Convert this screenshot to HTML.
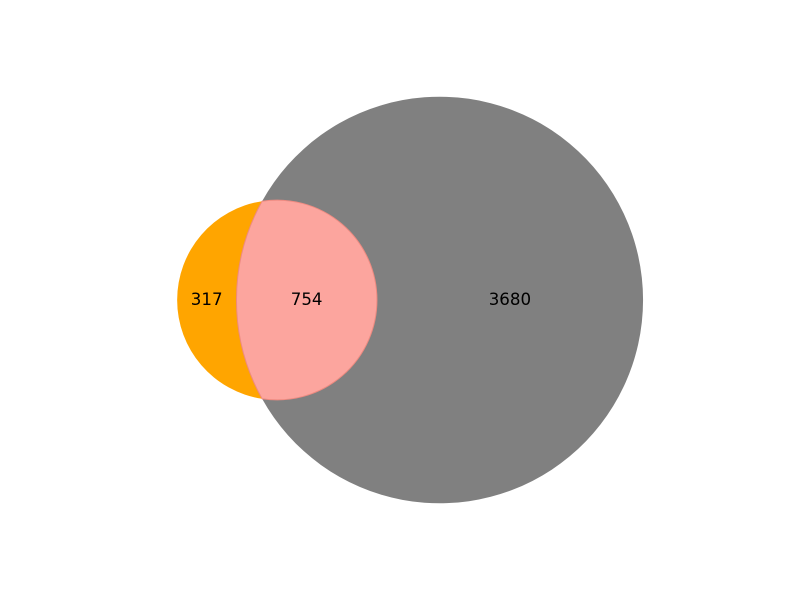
<!DOCTYPE html>
<html lang="en">
<head>
<meta charset="utf-8">
<title>Venn diagram</title>
<style>
  html, body { margin: 0; padding: 0; background: #ffffff; }
  #chart { display: block; width: 800px; height: 600px; }
  text { font-family: "DejaVu Sans", "Liberation Sans", sans-serif; font-size: 16.67px; fill: #000000; text-anchor: middle; }
</style>
</head>
<body>
<svg id="chart" xmlns="http://www.w3.org/2000/svg" width="800" height="600" viewBox="0 0 800 600">
  <rect x="0" y="0" width="800" height="600" fill="#ffffff"></rect>
  <g id="regions"></g>
  <g id="labels"></g>
</svg>
<script>
// Venn region values
const leftOnly = 317;
const overlap = 754;
const rightOnly = 3680;

const PX_PER_SQRT_UNIT = 3.053;
const MID_X = 410.1;
const MID_Y = 300;
const BASELINE_OFFSET = 5;
const LABEL_SHIFT_X = -0.1;
const SVG_NS = 'http://www.w3.org/2000/svg';

function lensArea(d, r1, r2) {
  const a = (d * d + r1 * r1 - r2 * r2) / (2 * d);
  const b = d - a;
  const h = Math.sqrt(Math.max(0, r1 * r1 - a * a));
  return r1 * r1 * Math.acos(a / r1) - a * h + r2 * r2 * Math.acos(b / r2) - b * h;
}

function solveDistance(r1, r2, area) {
  let lo = Math.abs(r2 - r1) + 1e-6;
  let hi = r1 + r2 - 1e-6;
  for (let i = 0; i < 80; i++) {
    const mid = (lo + hi) / 2;
    if (lensArea(mid, r1, r2) > area) lo = mid; else hi = mid;
  }
  return (lo + hi) / 2;
}

const r1 = PX_PER_SQRT_UNIT * Math.sqrt(leftOnly + overlap);
const r2 = PX_PER_SQRT_UNIT * Math.sqrt(overlap + rightOnly);
const lensPx = overlap * Math.PI * PX_PER_SQRT_UNIT * PX_PER_SQRT_UNIT;
const dist = solveDistance(r1, r2, lensPx);

const leftEdge = MID_X - (r1 + dist + r2) / 2;
const cx1 = leftEdge + r1;
const cx2 = cx1 + dist;

const chordOffset = (dist * dist + r1 * r1 - r2 * r2) / (2 * dist);
const chordX = cx1 + chordOffset;
const chordH = Math.sqrt(r1 * r1 - chordOffset * chordOffset);
const topY = MID_Y - chordH;
const botY = MID_Y + chordH;
// the small circle's arc through its right side is the large arc when the chord lies left of its centre
const smallLarge = chordOffset < 0 ? 1 : 0;

const crescentPath = `M ${chordX} ${topY} A ${r1} ${r1} 0 ${1 - smallLarge} 0 ${chordX} ${botY} A ${r2} ${r2} 0 0 1 ${chordX} ${topY} Z`;
const grayPath = `M ${chordX} ${topY} A ${r2} ${r2} 0 1 1 ${chordX} ${botY} A ${r1} ${r1} 0 ${smallLarge} 0 ${chordX} ${topY} Z`;
const lensPath = `M ${chordX} ${topY} A ${r1} ${r1} 0 ${smallLarge} 1 ${chordX} ${botY} A ${r2} ${r2} 0 0 1 ${chordX} ${topY} Z`;

const regions = document.getElementById('regions');
const labels = document.getElementById('labels');

const grayRegion = document.createElementNS(SVG_NS, 'path');
grayRegion.setAttribute('d', grayPath);
grayRegion.setAttribute('fill', '#808080');


regions.appendChild(grayRegion);

const orangeRegion = document.createElementNS(SVG_NS, 'path');
orangeRegion.setAttribute('d', crescentPath);
orangeRegion.setAttribute('fill', '#ffa500');


regions.appendChild(orangeRegion);

const pinkRegion = document.createElementNS(SVG_NS, 'path');
pinkRegion.setAttribute('d', lensPath);
pinkRegion.setAttribute('fill', '#fca59e');
pinkRegion.setAttribute('stroke', '#ee8a80');
pinkRegion.setAttribute('stroke-width', '1');


regions.appendChild(pinkRegion);

const leftEdgeOfBig = cx2 - r2;
const rightEdgeOfSmall = cx1 + r1;
const rightEdgeOfBig = cx2 + r2;

const leftLabel = document.createElementNS(SVG_NS, 'text');
leftLabel.setAttribute('x', (leftEdge + leftEdgeOfBig) / 2 + LABEL_SHIFT_X);
leftLabel.setAttribute('y', MID_Y + BASELINE_OFFSET);
leftLabel.textContent = String(leftOnly);


labels.appendChild(leftLabel);

const overlapLabel = document.createElementNS(SVG_NS, 'text');
overlapLabel.setAttribute('x', (leftEdgeOfBig + rightEdgeOfSmall) / 2 + LABEL_SHIFT_X);
overlapLabel.setAttribute('y', MID_Y + BASELINE_OFFSET);
overlapLabel.textContent = String(overlap);


labels.appendChild(overlapLabel);

const rightLabel = document.createElementNS(SVG_NS, 'text');
rightLabel.setAttribute('x', (rightEdgeOfSmall + rightEdgeOfBig) / 2 + LABEL_SHIFT_X);
rightLabel.setAttribute('y', MID_Y + BASELINE_OFFSET);
rightLabel.textContent = String(rightOnly);


labels.appendChild(rightLabel);
</script>
</body>
</html>
